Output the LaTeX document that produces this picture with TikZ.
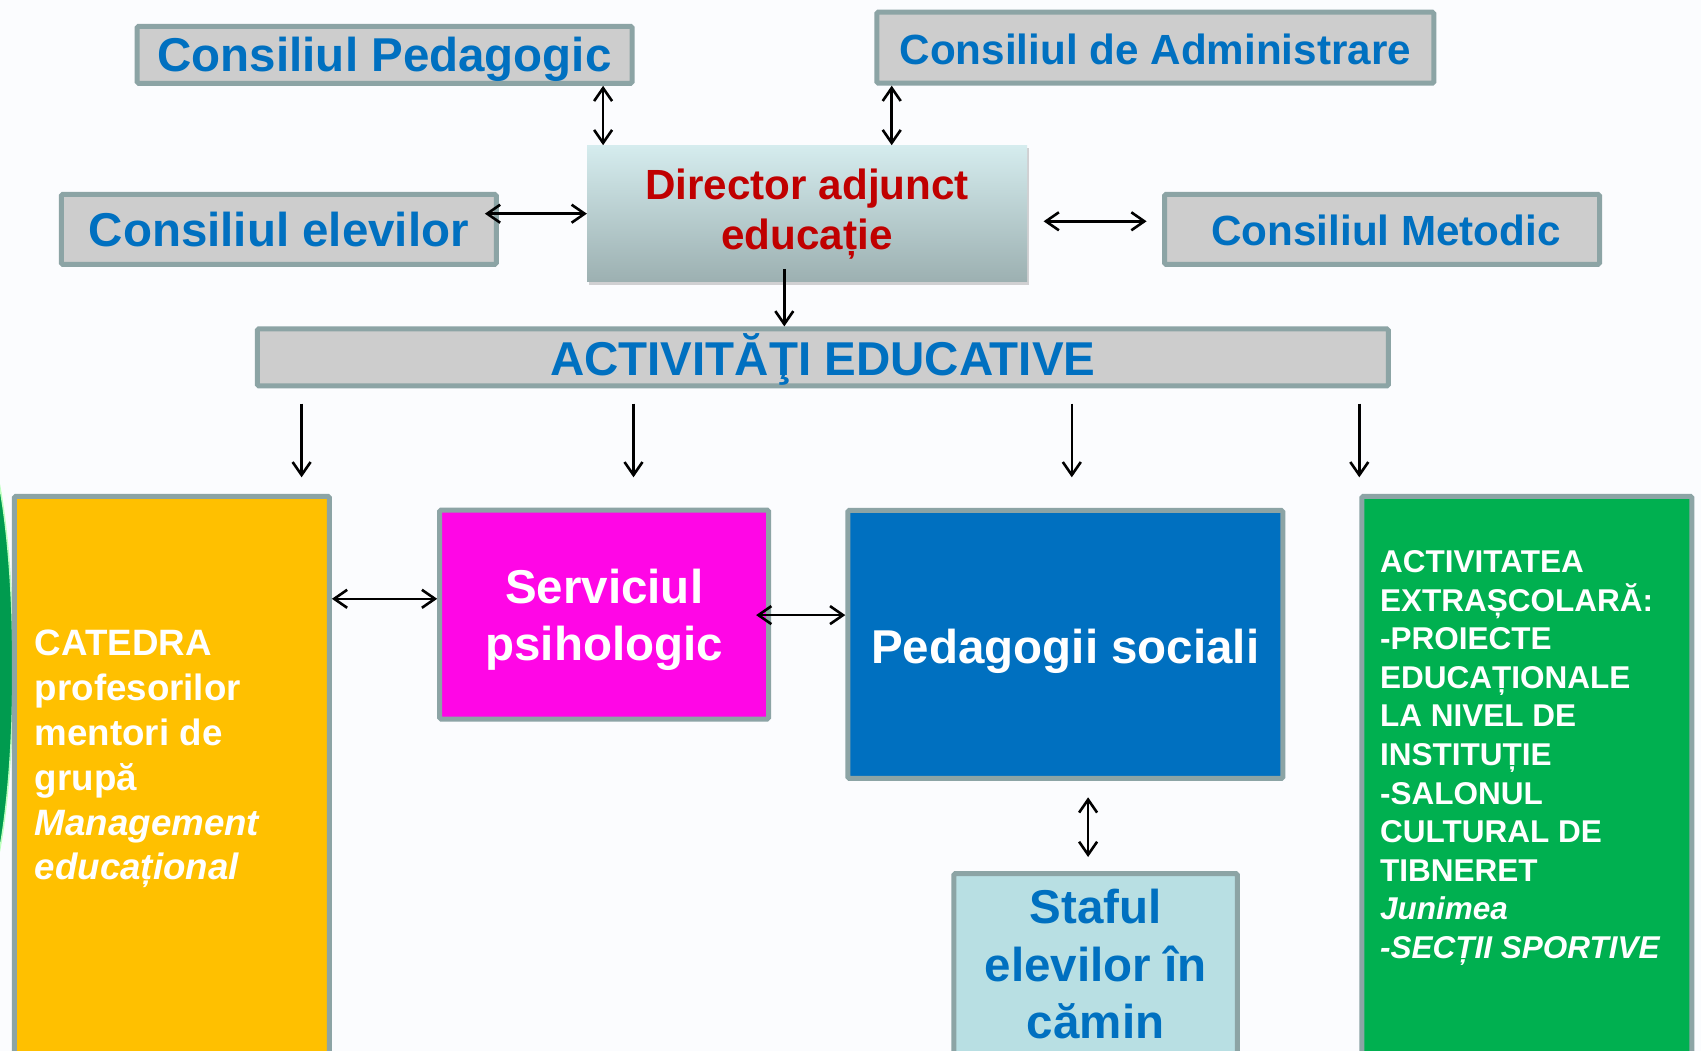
\documentclass[tikz,border=0pt]{standalone}
\usepackage{fontspec}
\setmainfont{Liberation Sans}
\usetikzlibrary{arrows.meta,shadows,calc}
\definecolor{bluetxt}{HTML}{0070C0}
\definecolor{bord}{HTML}{8CA4A5}
\definecolor{boxgray}{HTML}{CDCDCD}
\definecolor{dirtop}{HTML}{D5ECEE}
\definecolor{dirbot}{HTML}{9CB0B1}
\definecolor{dirred}{HTML}{C00000}
\definecolor{orangeb}{HTML}{FFC000}
\definecolor{magentab}{HTML}{FF06E6}
\definecolor{greenb}{HTML}{00B050}
\definecolor{ltblue}{HTML}{B8DFE3}
\definecolor{bgc}{HTML}{FBFCFE}
\definecolor{darkgreen}{HTML}{009B4F}
\newcommand\fsBig{\fontsize{47.5}{57.5}\selectfont\bfseries}
\newcommand\fsMid{\fontsize{42.2}{50}\selectfont\bfseries}
\newcommand\fsCat{\fontsize{36.7}{44.9}\selectfont\bfseries}
\newcommand\fsEx{\fontsize{31.5}{38.6}\selectfont\bfseries}
\tikzset{
  box/.style={draw=bord, line width=5pt, rounded corners=1.5pt, inner sep=0pt},
  graybox/.style={box, fill=boxgray},
  lbl/.style={inner sep=0pt, align=center},
  arr/.style={line width=2.6pt, -{Straight Barb[length=13pt,width=18pt]}},
  dar/.style={line width=2.6pt, {Straight Barb[length=13pt,width=18pt]}-{Straight Barb[length=13pt,width=18pt]}},
}
\begin{document}
\begin{tikzpicture}[x=1pt,y=-1pt]
\useasboundingbox (0,0) rectangle (1701,1051);
\clip (0,0) rectangle (1701,1051);
\fill[bgc] (0,0) rectangle (1701,1051);
% green sliver at left edge
\fill[darkgreen, draw=green!25!white, line width=1.5pt] (-27,668) ellipse [x radius=40, y radius=244];

% top boxes
\node[graybox, minimum width=495pt, minimum height=57pt] (CP) at (384.6,54.8) {};
\node[lbl, text=bluetxt, font=\fsBig] (CPt) at ([yshift=-5pt]CP.center) {Consiliul Pedagogic};
\node[graybox, minimum width=557pt, minimum height=71pt] (CA) at (1155.3,47.7) {};
\node[lbl, text=bluetxt, font=\fsMid] (CAt) at ([yshift=-2pt]CA.center) {Consiliul de Administrare};
\node[minimum width=440pt, minimum height=136.6pt, inner sep=0pt, top color=dirtop, bottom color=dirbot,
      drop shadow={opacity=0.35, shadow xshift=1.5pt, shadow yshift=-3pt}, text=dirred, font=\fsMid, align=center]
      (DIR) at (807.1,213.7) {Director adjunct\\educație};
\node[graybox, minimum width=435pt, minimum height=70pt] (CE) at (278.8,229.4) {};
\node[lbl, text=bluetxt, font=\fsBig] (CEt) at (CE.center) {Consiliul elevilor};
\node[graybox, minimum width=435pt, minimum height=70pt] (CM) at (1382,229.4) {};
\node[lbl, text=bluetxt, font=\fsMid] (CMt) at ([xshift=4pt,yshift=-1pt]CM.center) {Consiliul Metodic};
\node[graybox, minimum width=1131pt, minimum height=57pt] (AE) at (822.8,357.4) {};
\node[lbl, text=bluetxt, font=\fsBig] (AEt) at ([yshift=-2pt]AE.center) {ACTIVITĂŢI EDUCATIVE};

% lower boxes
\node[box, fill=orangeb, minimum width=315pt, minimum height=571pt] (CAT) at (171.9,781.8) {};
\node[font=\fsCat, text=white, align=left, anchor=west, inner sep=0pt] (CATt) at (34.7,759)
  {CATEDRA\\profesorilor\\mentori de\\grupă\\\textit{Management}\\\textit{educațional}};
\node[box, fill=magentab, minimum width=329pt, minimum height=209pt] (SP) at (604.2,614.5) {};
\node[lbl, text=white, font=\fsBig] (SPt) at ([yshift=-5.5pt]SP.center) {Serviciul\\psihologic};
\node[box, fill=bluetxt, minimum width=435pt, minimum height=268pt] (PS) at (1065.3,644.4) {};
\node[lbl, text=white, font=\fsBig] (PSt) at ([yshift=-6.5pt]PS.center) {Pedagogii sociali};
\node[box, fill=ltblue, minimum width=283.5pt, minimum height=194pt] (ST) at (1095.6,970.5) {};
\node[lbl, font=\fsBig, text=bluetxt] (STt) at (1095.6,964.2) {Staful\\elevilor în\\cămin};
\node[box, fill=greenb, minimum width=330pt, minimum height=571pt] (EX) at (1526.9,781.8) {};
\node[font=\fsEx, text=white, align=left, anchor=west, inner sep=0pt] (EXt) at (1380,758)
  {ACTIVITATEA\\EXTRAȘCOLARĂ:\\-PROIECTE\\EDUCAȚIONALE\\LA NIVEL DE\\INSTITUȚIE\\-SALONUL\\CULTURAL DE\\TIBNERET\\\textit{Junimea}\\\textit{-SECȚII SPORTIVE}};

% coordinates for connectors
\coordinate (x1) at (603.1,0);
\coordinate (x2) at (891.7,0);
\coordinate (y3) at (0,213.7);
\coordinate (a3s) at (484.9,213.7);
\coordinate (a4s) at (1043.6,221.3);
\coordinate (a4e) at (1146.6,221.3);
\coordinate (a5s) at (784.3,269);
\coordinate (d1s) at (301.6,403.5);  \coordinate (d1e) at (301.6,477.3);
\coordinate (d2s) at (633.5,403.5);  \coordinate (d2e) at (633.5,477.3);
\coordinate (d3s) at (1071.8,403.5); \coordinate (d3e) at (1071.8,477.3);
\coordinate (d4s) at (1359.3,403.5); \coordinate (d4e) at (1359.3,477.3);
\coordinate (y6) at (0,598.8);
\coordinate (a7s) at (756.1,615.1);
\coordinate (a8s) at (1088.1,797.3);
\coordinate (a8e) at (1088.1,857);

% connectors
\draw[dar] (CP.south -| x1) -- (DIR.north -| x1);
\draw[dar] (CA.south -| x2) -- (DIR.north -| x2);
\draw[dar] (a3s) -- (DIR.west |- y3);
\draw[dar] (a4s) -- (a4e);
\draw[arr] (a5s) -- (AE.north -| a5s);
\draw[arr] (d1s) -- (d1e);
\draw[arr] (d2s) -- (d2e);
\draw[arr] (d3s) -- (d3e);
\draw[arr] (d4s) -- (d4e);
\draw[dar] (CAT.east |- y6) -- (SP.west |- y6);
\draw[dar] (a7s) -- (PS.west |- a7s);
\draw[dar] (a8s) -- (a8e);
\end{tikzpicture}
\end{document}
